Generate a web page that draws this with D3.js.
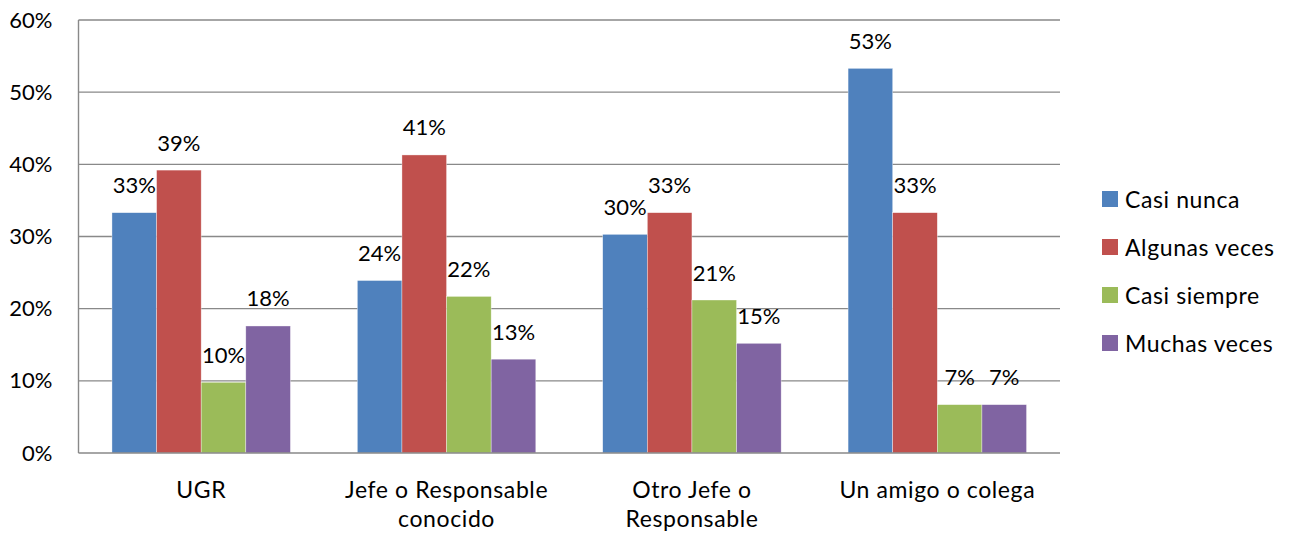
<!DOCTYPE html>
<html>
<head>
<meta charset="utf-8">
<script src="https://cdn.jsdelivr.net/npm/d3@7"></script>
<style>
  html, body { margin: 0; padding: 0; background: #fff; }
  svg { display: block; font-family: Lato, "Open Sans", sans-serif; }
</style>
</head>
<body>
<svg id="chart" width="1289" height="533"></svg>
<script>
// Categories (two-line labels where the original wraps)
const categories = ["UGR", "Jefe o Responsable conocido", "Otro Jefe o Responsable", "Un amigo o colega"];
const categoryLines = [["UGR"], ["Jefe o Responsable", "conocido"], ["Otro Jefe o", "Responsable"], ["Un amigo o colega"]];

// Series and their shares per category
const seriesNames = ["Casi nunca", "Algunas veces", "Casi siempre", "Muchas veces"];
const casiNunca    = [0.333, 0.239, 0.303, 0.533];
const algunasVeces = [0.392, 0.413, 0.333, 0.333];
const casiSiempre  = [0.098, 0.217, 0.212, 0.067];
const muchasVeces  = [0.176, 0.130, 0.152, 0.067];
const seriesValues = [casiNunca, algunasVeces, casiSiempre, muchasVeces];
const colors = ["#4F81BD", "#C0504D", "#9BBB59", "#8064A2"];

const yTicks = [0, 0.1, 0.2, 0.3, 0.4, 0.5, 0.6];

const svg = d3.select("#chart");
const plot = { left: 78.5, right: 1060, top: 20, bottom: 453 };

const x0 = d3.scaleBand().domain(categories).range([plot.left, plot.right]).paddingInner(0).paddingOuter(0);
// gap of 150% of a bar width split evenly on each side of the group
const groupPad = 0.75 * x0.bandwidth() / (4 + 1.5);
const x1 = d3.scaleBand().domain(seriesNames).range([groupPad, x0.bandwidth() - groupPad]).padding(0);
const y = d3.scaleLinear().domain([0, 0.6]).range([plot.bottom, plot.top]);

const gridColor = "#898989";
const fmt = d3.format(".0%");

// Horizontal gridlines
svg.append("g")
  .selectAll("line")
  .data(yTicks.filter(t => t > 0))
  .join("line")
  .attr("x1", plot.left).attr("x2", plot.right)
  .attr("y1", d => y(d)).attr("y2", d => y(d))
  .attr("stroke", gridColor).attr("stroke-width", 1.4);

// Y axis labels
const yAxis = svg.append("g")
  .attr("transform", `translate(${plot.left},0)`)
  .call(d3.axisLeft(y).tickValues(yTicks).tickFormat(fmt).tickSize(0).tickPadding(26));
yAxis.select(".domain").remove();
yAxis.selectAll("text").attr("font-size", 22).attr("fill", "#000").attr("font-family", "Lato, sans-serif");

// Bars
const groups = svg.append("g")
  .selectAll("g")
  .data(categories)
  .join("g")
  .attr("transform", d => `translate(${x0(d)},0)`);

groups.selectAll("rect")
  .data((c, i) => seriesNames.map((s, j) => ({ s, j, v: seriesValues[j][i] })))
  .join("rect")
  .attr("x", d => x1(d.s))
  .attr("width", x1.bandwidth())
  .attr("y", d => y(d.v))
  .attr("height", d => y(0) - y(d.v))
  .attr("fill", d => colors[d.j])
  .attr("stroke", "rgba(255,255,255,0.6)")
  .attr("stroke-width", 0.6);

// Value labels above bars
groups.selectAll("text")
  .data((c, i) => seriesNames.map((s, j) => ({ s, j, v: seriesValues[j][i] })))
  .join("text")
  .attr("x", d => x1(d.s) + x1.bandwidth() / 2)
  .attr("y", d => y(d.v) - 19.5)
  .attr("text-anchor", "middle")
  .attr("font-size", 22)
  .attr("fill", "#000")
  .text(d => fmt(d.v));

// Axis lines (left and bottom)
svg.append("line")
  .attr("x1", plot.left).attr("x2", plot.left)
  .attr("y1", plot.top).attr("y2", plot.bottom)
  .attr("stroke", gridColor).attr("stroke-width", 1.4);
svg.append("line")
  .attr("x1", plot.left).attr("x2", plot.right)
  .attr("y1", plot.bottom).attr("y2", plot.bottom)
  .attr("stroke", gridColor).attr("stroke-width", 1.4);

// Category labels
const xLabels = svg.append("g")
  .selectAll("text")
  .data(categories)
  .join("text")
  .attr("x", d => x0(d) + x0.bandwidth() / 2)
  .attr("y", 497.5)
  .attr("text-anchor", "middle")
  .attr("font-size", 23)
  .attr("letter-spacing", 0.6)
  .attr("fill", "#000");
xLabels.selectAll("tspan")
  .data((d, i) => categoryLines[i])
  .join("tspan")
  .attr("x", function () { return d3.select(this.parentNode).attr("x"); })
  .attr("dy", (d, i) => i === 0 ? 0 : 29)
  .text(d => d);

// Legend
const legend = svg.append("g")
  .selectAll("g")
  .data(seriesNames)
  .join("g")
  .attr("transform", (d, i) => `translate(1102,${199 + i * 48})`);
legend.append("rect")
  .attr("x", 0).attr("y", -8)
  .attr("width", 16).attr("height", 16)
  .attr("fill", (d, i) => colors[i]);
legend.append("text")
  .attr("x", 23).attr("y", 8.5)
  .attr("font-size", 23)
  .attr("letter-spacing", 0.6)
  .attr("fill", "#000")
  .text(d => d);
</script>
</body>
</html>
